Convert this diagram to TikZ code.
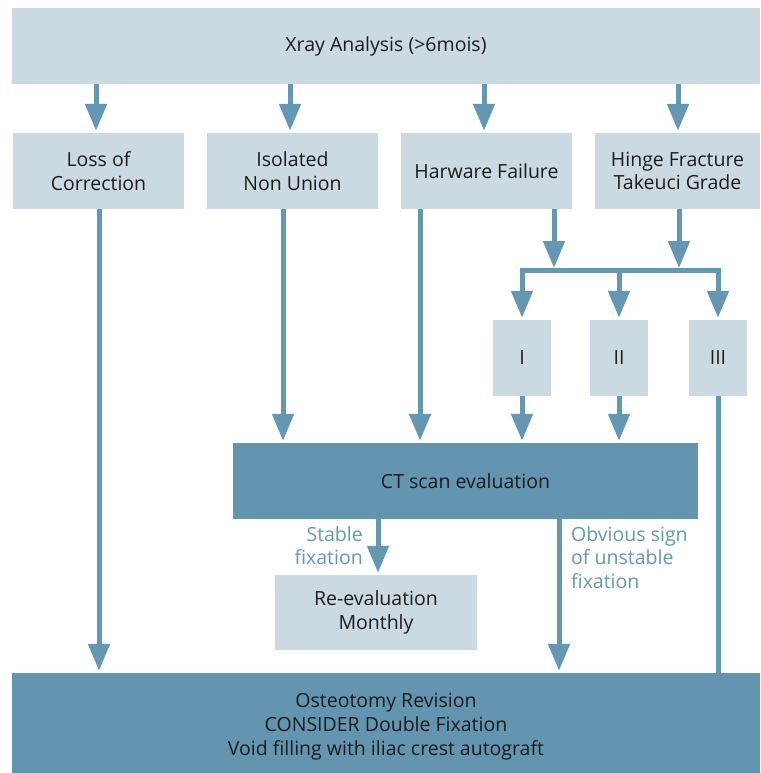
\documentclass[tikz,border=0pt]{standalone}
\usepackage{fontspec}
\setmainfont{Open Sans}
\usetikzlibrary{arrows.meta}
\definecolor{boxlight}{RGB}{203,217,226}
\definecolor{boxdark}{RGB}{99,149,176}
\definecolor{flowblue}{RGB}{100,151,177}
\definecolor{textdark}{RGB}{28,28,28}
\begin{document}
\begin{tikzpicture}[x=1pt, y=-1pt,
    lightbox/.style = {fill=boxlight, inner sep=0pt, align=center, text=textdark,
                       font=\fontsize{19.5}{23.5}\selectfont},
    darkbox/.style = {lightbox, fill=boxdark},
    gradebox/.style = {lightbox, minimum width=58pt, minimum height=76pt},
    link/.style = {draw=flowblue, line width=5pt},
    flow/.style = {link, -{Triangle[width=21pt, length=27pt]}, shorten >=2pt},
    note/.style = {text=flowblue, inner sep=0pt, font=\fontsize{19.5}{23.5}\selectfont}
  ]
  \useasboundingbox (0,0) rectangle (760,773);
  \node[lightbox, minimum width=748pt, minimum height=76pt] (xray) at (386,46) {Xray Analysis (>6mois)};
  \node[lightbox, minimum width=171pt, minimum height=76pt] (loss) at (98.5,171) {Loss of\\Correction};
  \node[lightbox, minimum width=171pt, minimum height=76pt] (nonunion) at (292.5,171) {Isolated\\Non Union};
  \node[lightbox, minimum width=171pt, minimum height=76pt] (hardware) at (486.5,171) {Harware Failure};
  \node[lightbox, minimum width=165pt, minimum height=76pt] (hinge) at (677.5,171) {Hinge Fracture\\Takeuci Grade};
  \node[gradebox] (gradeI) at (522,358) {I};
  \node[gradebox] (gradeII) at (619,358) {II};
  \node[gradebox] (gradeIII) at (718,358) {III};
  \node[darkbox, minimum width=465pt, minimum height=76pt] (ct) at (465.5,481) {CT scan evaluation};
  \node[lightbox, minimum width=202pt, minimum height=75pt] (monthly) at (376,612.5) {Re-evaluation\\Monthly};
  \node[darkbox, minimum width=748pt, minimum height=108pt, font=\fontsize{19.5}{24}\selectfont] (revision) at (386,727)
    {Osteotomy Revision\\CONSIDER Double Fixation\\Void filling with iliac crest autograft};
  \coordinate (split) at (0,270);

  \foreach \n/\x in {loss/96, nonunion/290, hardware/484, hinge/678}
    \draw[flow] (xray.south -| \x,0) -- (\n.north -| \x,0);
  \draw[flow] (loss.south -| 99,0) -- (revision.north -| 99,0);
  \draw[flow] (nonunion.south -| 283,0) -- (ct.north -| 283,0);
  \draw[flow] (hardware.south -| 420,0) -- (ct.north -| 420,0);
  \draw[flow] (hardware.south -| 554,0) -- (split -| 554,0);
  \draw[flow] (hinge.south -| 679,0) -- (split -| 679,0);
  \draw[link, line cap=rect] (gradeI |- split) -- (gradeIII |- split);
  \foreach \g in {gradeI, gradeII, gradeIII}
    \draw[flow] (\g |- split) -- (\g.north);
  \draw[flow] (gradeI.south) -- (ct.north -| gradeI);
  \draw[flow] (gradeII.south) -- (ct.north -| gradeII);
  \draw[link] (gradeIII.south) -- (revision.north -| gradeIII);
  \draw[flow] (ct.south -| 378,0) -- (monthly.north -| 378,0);
  \draw[flow] (ct.south -| 559,0) -- (revision.north -| 559,0);
  \node[note, anchor=north east, align=right] (stable) at (363,526) {Stable\\fixation};
  \node[note, anchor=north west, align=left] (unstable) at (571,526) {Obvious sign\\of unstable\\fixation};
\end{tikzpicture}
\end{document}
